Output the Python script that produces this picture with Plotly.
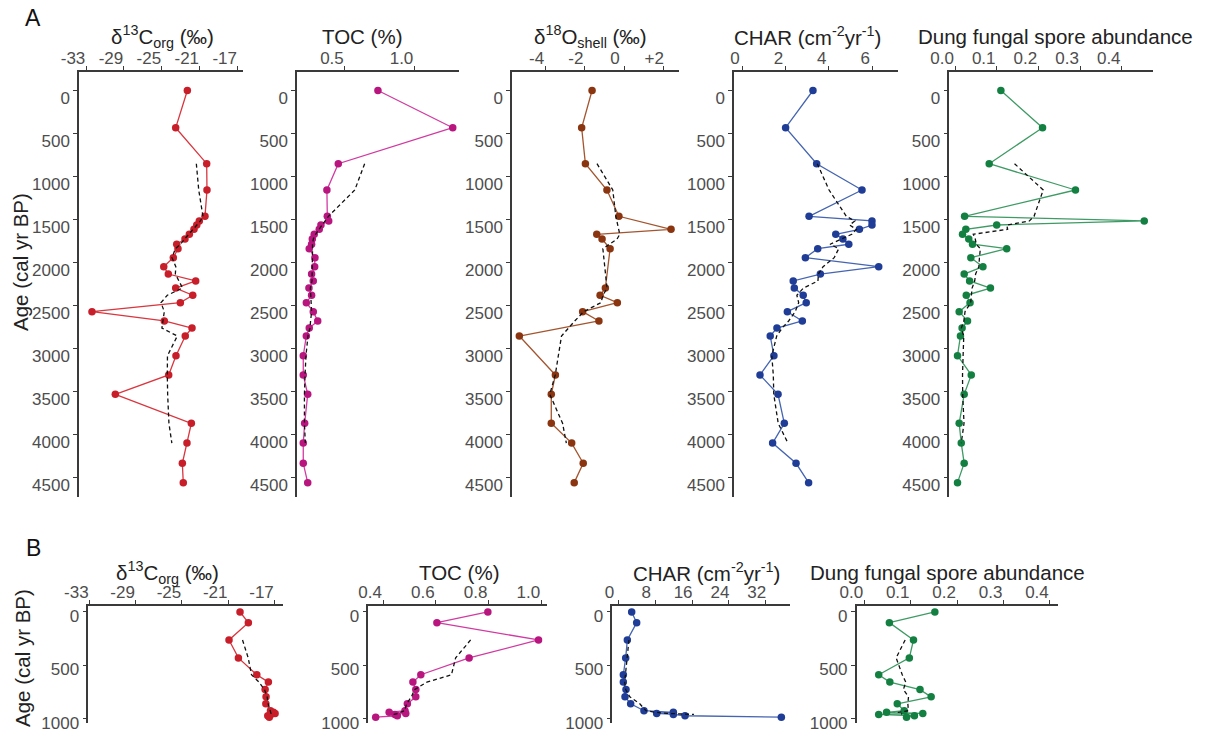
import plotly.graph_objects as go
import pandas as pd

W, H = 1208, 735

# ---------------- Panel A data (shared sample ages, cal yr BP) ----------------
age_A = [0, 433, 851, 1157, 1463, 1517, 1564, 1614, 1672, 1727, 1788, 1840, 1944, 2049, 2134,
         2215, 2297, 2381, 2467, 2572, 2680, 2762, 2855, 3084, 3308, 3533, 3870, 4100, 4335, 4560]
d13C_A = [-22.31, -23.54, -20.27, -20.24, -20.45, -21.05, -21.32, -21.61, -22.10, -22.56,
          -23.43, -23.30, -23.79, -24.80, -24.32, -21.43, -23.54, -21.74, -23.05, -32.37,
          -24.74, -21.82, -22.53, -23.51, -24.28, -29.91, -21.89, -22.35, -22.84, -22.74]
toc_A = [0.737, 1.275, 0.452, 0.370, 0.373, 0.383, 0.327, 0.315, 0.279, 0.265,
         0.260, 0.243, 0.284, 0.282, 0.260, 0.272, 0.241, 0.260, 0.222, 0.272,
         0.304, 0.243, 0.222, 0.200, 0.200, 0.232, 0.210, 0.200, 0.200, 0.232]
char_A = [3.27, 2.01, 3.44, 5.53, 3.09, 5.99, 5.99, 5.41, 4.32, 4.65,
          4.92, 3.49, 2.92, 6.30, 3.61, 2.36, 2.41, 2.82, 2.96, 2.09,
          2.78, 1.61, 1.30, 1.47, 0.83, 1.66, 1.95, 1.41, 2.49, 3.07]
dung_A = [0.110, 0.210, 0.082, 0.289, 0.023, 0.454, 0.100, 0.026, 0.018, 0.033,
          0.042, 0.124, 0.038, 0.067, 0.022, 0.035, 0.085, 0.027, 0.036, 0.010,
          0.030, 0.017, 0.013, 0.006, 0.039, 0.022, 0.010, 0.015, 0.022, 0.006]
age_O18 = [0, 433, 851, 1157, 1463, 1614, 1672, 1727, 1840, 2297, 2381, 2467, 2572, 2680,
           2855, 3308, 3533, 3870, 4100, 4335, 4560]
d18O_A = [-1.63, -2.16, -1.97, -0.87, -0.26, 2.40, -1.39, -1.12, -0.71, -0.95, -1.22,
          -0.34, -2.11, -1.28, -5.34, -3.50, -3.71, -3.71, -2.67, -2.08, -2.54]

# ---------------- Panel B data ----------------
age_B = [0, 100, 262, 430, 588, 657, 727, 795, 860, 925, 940, 950, 960, 972, 985]
d13C_B = [-19.98, -19.26, -20.93, -20.12, -18.53, -17.53, -17.81, -17.73, -17.75, -17.35,
          -17.10, -16.95, -17.30, -17.58, -17.45]
toc_B = [0.797, 0.604, 0.989, 0.726, 0.543, 0.513, 0.524, 0.524, 0.492, 0.483,
         0.423, 0.486, 0.445, 0.454, 0.372]
char_B = [2.86, 3.95, 1.92, 1.56, 1.05, 1.05, 1.63, 1.41, 2.64, 5.54,
          11.92, 8.30, 11.92, 14.46, 35.4]
dung_B = [0.152, 0.054, 0.106, 0.097, 0.031, 0.055, 0.120, 0.144, 0.071, 0.086,
          0.048, 0.126, 0.031, 0.108, 0.091]

# tick values / labels
yt_A = [0, 500, 1000, 1500, 2000, 2500, 3000, 3500, 4000, 4500]
yt_B = [0, 500, 1000]
xt_d13C = [-33, -29, -25, -21, -17]
xt_toc_A = [0.5, 1.0]
xt_toc_A_lab = ["0.5", "1.0"]
xt_d18O = [-4, -2, 0, 2]
xt_d18O_lab = ["-4", "-2", "0", "+2"]
xt_char_A = [0, 2, 4, 6]
xt_dung = [0.0, 0.1, 0.2, 0.3, 0.4]
xt_dung_lab = ["0.0", "0.1", "0.2", "0.3", "0.4"]
xt_toc_B = [0.4, 0.6, 0.8, 1.0]
xt_toc_B_lab = ["0.4", "0.6", "0.8", "1.0"]
xt_char_B = [0, 8, 16, 24, 32]

# colours
C_RED = ("#c81e2a", "#d9363e")
C_MAG = ("#b8157f", "#d23aa2")
C_BRN = ("#8a3510", "#a3552f")
C_BLU = ("#1f3c96", "#4565b2")
C_GRN = ("#138042", "#3f9b65")

FONT = "Liberation Sans, Arial, sans-serif"
AXC = "#3a3a3a"
TICKC = "#4d4d4d"
TICKSIZE = 17

A_top, A_bot = 71.5, 497
A_yr = [4727, -221]
B_top, B_bot = 606, 723
B_yr = [1040, -56]

panels = [
    (d13C_A, age_A, C_RED, [-33.74, -16.44], (79, 243), (A_top, A_bot), A_yr, xt_d13C, [str(v) for v in xt_d13C], yt_A, -13, -8),
    (toc_A, age_A, C_MAG, [0.155, 1.320], (297, 459), (A_top, A_bot), A_yr, xt_toc_A, xt_toc_A_lab, yt_A, -13, -8),
    (d18O_A, age_O18, C_BRN, [-5.714, 2.806], (512, 679), (A_top, A_bot), A_yr, xt_d18O, xt_d18O_lab, yt_A, -9, -8),
    (char_A, age_A, C_BLU, [-0.369, 7.189], (734, 898), (A_top, A_bot), A_yr, xt_char_A, [str(v) for v in xt_char_A], yt_A, -7, -8),
    (dung_A, age_A, C_GRN, [-0.0137, 0.475], (949.3, 1153), (A_top, A_bot), A_yr, xt_dung, xt_dung_lab, yt_A, -13, -8),
    (d13C_B, age_B, C_RED, [-33.09, -16.24], (88.3, 283.3), (B_top, B_bot), B_yr, xt_d13C, [str(v) for v in xt_d13C], yt_B, -13, -4),
    (toc_B, age_B, C_MAG, [0.344, 1.020], (368.3, 546.7), (B_top, B_bot), B_yr, xt_toc_B, xt_toc_B_lab, yt_B, -13, -4),
    (char_B, age_B, C_BLU, [-1.35, 37.28], (612.3, 790), (B_top, B_bot), B_yr, xt_char_B, [str(v) for v in xt_char_B], yt_B, -9, -4),
    (dung_B, age_B, C_GRN, [-0.0164, 0.418], (856.7, 1058.3), (B_top, B_bot), B_yr, xt_dung, xt_dung_lab, yt_B, -13, -4),
]

fig = go.Figure()
layout = dict(
    template="none",
    width=W, height=H, margin=dict(l=0, r=0, t=0, b=0, pad=0, autoexpand=False),
    paper_bgcolor="white", plot_bgcolor="rgba(0,0,0,0)",
    showlegend=False, font=dict(family=FONT, size=16, color=TICKC),
)

for i, (xv, yv, col, xr, xpix, ypix, yr, xtv, xtt, ytv, xs, ys) in enumerate(panels, start=1):
    sfx = "" if i == 1 else str(i)
    xa, ya = "x" + sfx, "y" + sfx
    fig.add_trace(go.Scatter(
        x=xv, y=yv, xaxis=xa, yaxis=ya, mode="lines+markers",
        line=dict(color=col[1], width=1.3),
        marker=dict(color=col[0], size=7.5, line=dict(width=0)),
        cliponaxis=False, hoverinfo="skip"))
    # 5-point centred running mean of the plotted series (dashed)
    rm = pd.Series(xv).rolling(5, center=True).mean()
    mask = rm.notna()
    fig.add_trace(go.Scatter(
        x=rm[mask].tolist(), y=[a for a, m in zip(yv, mask) if m], xaxis=xa, yaxis=ya,
        mode="lines", line=dict(color="#111111", width=1.3, dash="4px,3px"),
        hoverinfo="skip"))
    layout["xaxis" + sfx] = dict(
        domain=[xpix[0] / W, xpix[1] / W], anchor=ya, side="top", range=xr,
        tickmode="array", tickvals=xtv, ticktext=xtt, ticks="outside", ticklen=4,
        tickwidth=1.2, tickcolor=AXC, showline=True, linecolor=AXC, linewidth=1.5,
        showgrid=False, zeroline=False, ticklabelshift=xs, ticklabelstandoff=-5,
        automargin=False, tickfont=dict(family=FONT, size=TICKSIZE, color=TICKC))
    layout["yaxis" + sfx] = dict(
        domain=[1 - ypix[1] / H, 1 - ypix[0] / H], anchor=xa, range=yr,
        tickmode="array", tickvals=ytv, ticks="outside", ticklen=4,
        tickwidth=1.2, tickcolor=AXC, showline=True, linecolor=AXC, linewidth=1.5,
        showgrid=False, zeroline=False, ticklabelshift=ys, automargin=False,
        ticklabeloverflow="allow",
        tickfont=dict(family=FONT, size=TICKSIZE, color=TICKC))

fig.update_layout(**layout)

TITLEC = "#222222"
titles = [
    ("δ<sup>13</sup>C<sub>org</sub> (‰)", 162, 36),
    ("TOC (%)", 362, 36),
    ("δ<sup>18</sup>O<sub>shell</sub> (‰)", 590, 36),
    ("CHAR (cm<sup>-2</sup>yr<sup>-1</sup>)", 807, 36),
    ("Dung fungal spore abundance", 1055, 36),
    ("δ<sup>13</sup>C<sub>org</sub> (‰)", 167, 572),
    ("TOC (%)", 459, 572),
    ("CHAR (cm<sup>-2</sup>yr<sup>-1</sup>)", 706, 572),
    ("Dung fungal spore abundance", 947, 572),
]
for txt, px, py in titles:
    fig.add_annotation(text=txt, x=px / W, y=1 - py / H, xref="paper", yref="paper",
                       showarrow=False, xanchor="center", yanchor="middle",
                       font=dict(family=FONT, size=20.5, color=TITLEC))

for lab, px, py in [("A", 33, 18), ("B", 33, 548)]:
    fig.add_annotation(text=lab, x=px / W, y=1 - py / H, xref="paper", yref="paper",
                       showarrow=False, xanchor="center", yanchor="middle",
                       font=dict(family=FONT, size=23, color="#111111"))

for px, py in [(20, 262), (22, 658)]:
    fig.add_annotation(text="Age (cal yr BP)", x=px / W, y=1 - py / H, xref="paper", yref="paper",
                       showarrow=False, xanchor="center", yanchor="middle", textangle=-90,
                       font=dict(family=FONT, size=20.5, color=TITLEC))

fig.write_html("out.html", config={"displayModeBar": False},
               post_script="document.body.style.margin='0';document.body.style.overflow='hidden';")
